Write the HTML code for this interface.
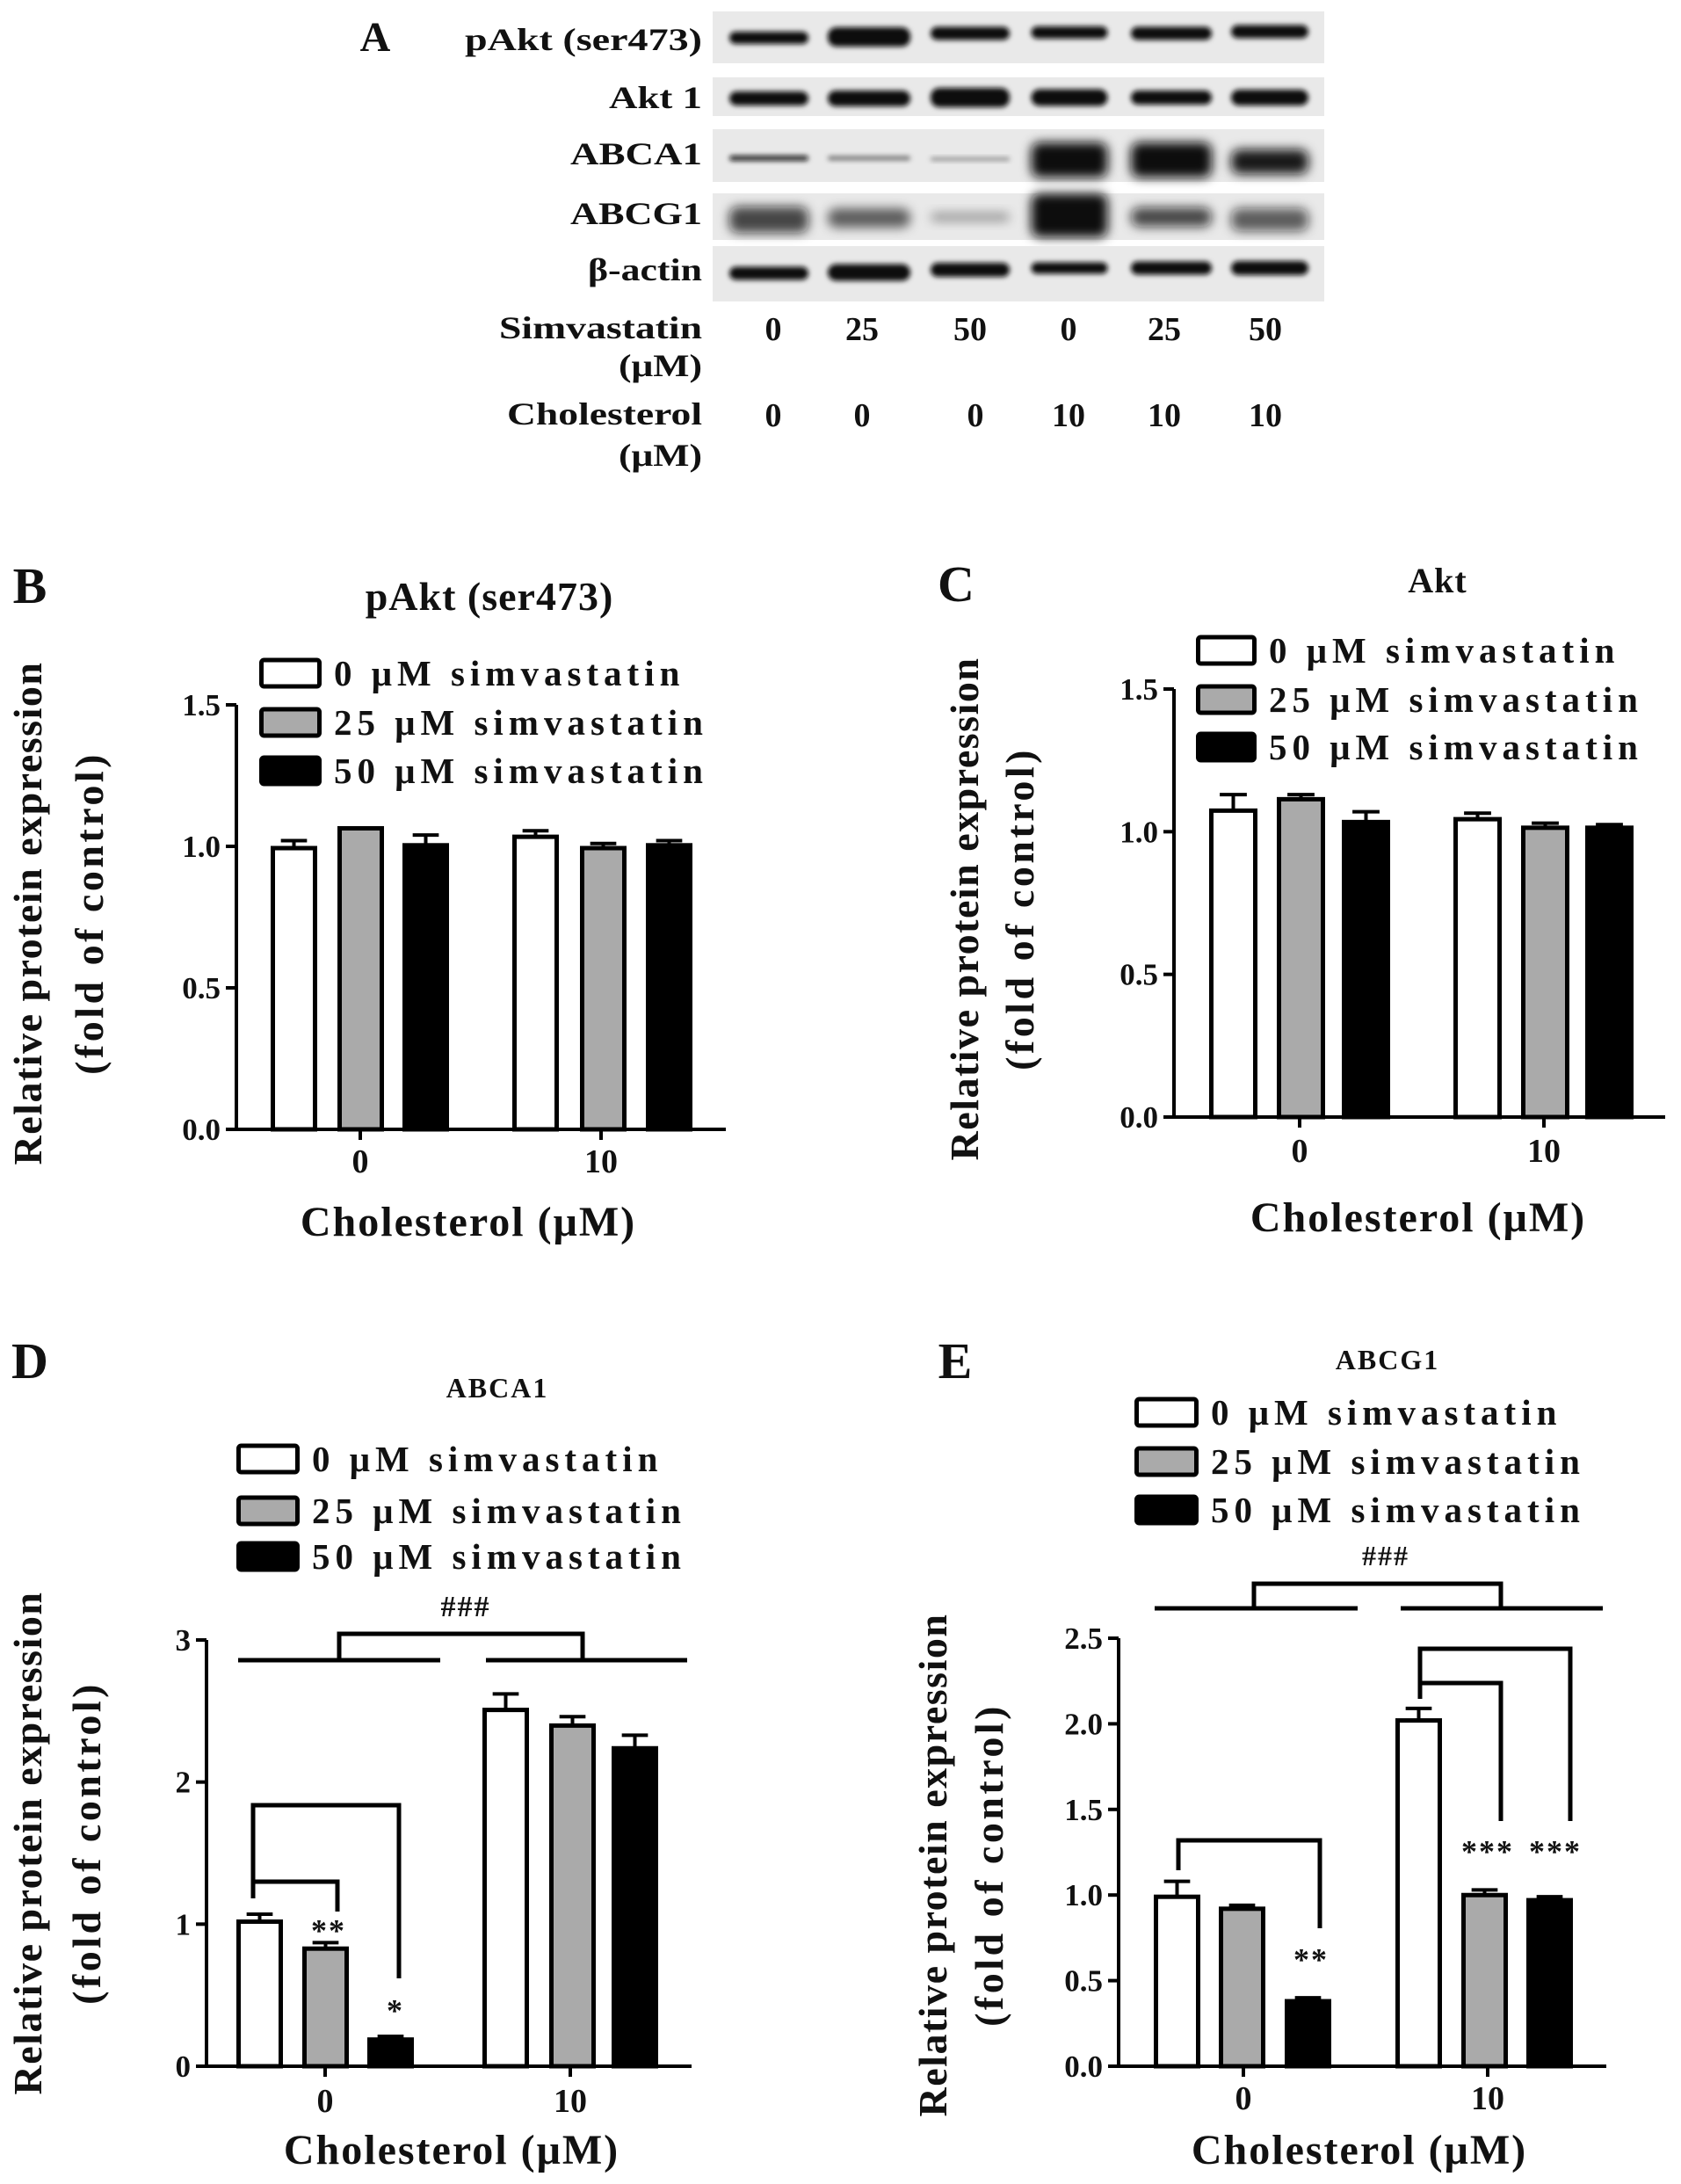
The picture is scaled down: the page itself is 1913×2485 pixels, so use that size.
<!DOCTYPE html>
<html><head><meta charset="utf-8">
<style>
html,body{margin:0;padding:0;background:#fff;}
svg{display:block;}
text{font-family:"Liberation Serif",serif;font-weight:bold;fill:#111;}
</style></head>
<body>
<svg id="fig" width="1913" height="2485" viewBox="0 0 1913 2485" xmlns="http://www.w3.org/2000/svg">
<defs>
<filter id="blur" x="-20%" y="-100%" width="140%" height="300%"><feGaussianBlur stdDeviation="3"/></filter>
<filter id="blur2" x="-20%" y="-100%" width="140%" height="300%"><feGaussianBlur stdDeviation="6"/></filter>
</defs>
<g id="panelA"></g>
<g id="charts"></g>
</svg>
<script>
// ---- Panel A data ----
const blotRows = ["pAkt (ser473)","Akt 1","ABCA1","ABCG1","β-actin"];
const simvaLabels = ["0","25","50","0","25","50"];
const cholLabels = ["0","0","0","10","10","10"];

// ---- Chart data ----
const groups = ["0","10"];
const seriesNames = ["0 μM simvastatin","25 μM simvastatin","50 μM simvastatin"];
const pAktVals = [[1.00,1.07,1.01],[1.04,1.00,1.01]];
const pAktErr  = [[0.02,0.00,0.03],[0.015,0.01,0.01]];
const pAktTicks = ["0.0","0.5","1.0","1.5"];
const aktVals = [[1.08,1.12,1.04],[1.05,1.02,1.02]];
const aktErr  = [[0.05,0.01,0.03],[0.015,0.01,0.005]];
const aktTicks = ["0.0","0.5","1.0","1.5"];
const abca1Vals = [[1.03,0.84,0.20],[2.52,2.41,2.25]];
const abca1Err  = [[0.04,0.03,0.01],[0.10,0.05,0.08]];
const abca1Ticks = ["0","1","2","3"];
const abcg1Vals = [[1.00,0.93,0.39],[2.03,1.01,0.98]];
const abcg1Err  = [[0.08,0.01,0.01],[0.06,0.02,0.01]];
const abcg1Ticks = ["0.0","0.5","1.0","1.5","2.0","2.5"];

const NS="http://www.w3.org/2000/svg";
function mk(tag,attrs,parent,txt){const e=document.createElementNS(NS,tag);for(const k in attrs)e.setAttribute(k,attrs[k]);if(txt!==undefined)e.textContent=txt;parent.appendChild(e);return e;}

// ---- Panel A ----
const A=document.getElementById('panelA');
let t=mk('text',{x:427,y:58,'font-size':48,'text-anchor':'middle'},A,"A");


const strips=[[13,72],[88,132],[147,207],[220,273],[280,343]];
const labelY=[45,111,175,243,307];
const labelW=[270,106,150,150,130];
const laneX=[875,989,1104,1217,1333,1445];
const laneW=[90,94,90,87,92,88];
const bandY=[[43,42,38,37,38,36],[112,112,111,111,111,111],[180,180,181,182,182,184],[250,248,247,245,247,250],[311,310,307,305,305,305]];
const bandH=[[14,22,15,14,15,15],[16,18,22,19,16,18],[6,5,4,40,40,28],[30,22,10,50,22,26],[15,19,16,13,15,16]];
const bandO=[[1,1,1,1,1,1],[1,1,1,1,1,1],[0.9,0.5,0.4,1,1,0.95],[0.75,0.6,0.35,1,0.75,0.65],[1,1,1,1,1,1]];
strips.forEach((s,i)=>{
  const g=mk('g',{},A);
  
  
  mk('rect',{x:811,y:s[0],width:696,height:s[1]-s[0],fill:'#e9e9e9'},g);
  laneX.forEach((lx,j)=>{
    const f=(i===2&&j>=3)||(i===3)?'url(#blur2)':'url(#blur)';
    const b=mk('rect',{x:lx-laneW[j]/2,y:bandY[i][j]-bandH[i][j]/2,width:laneW[j],height:bandH[i][j],rx:Math.min(10,bandH[i][j]/2),fill:'#0a0a0a','fill-opacity':bandO[i][j],filter:f},g);
    
    
  });
  const l=mk('text',{x:799,y:labelY[i]+12,'font-size':36,'text-anchor':'end',textLength:labelW[i],lengthAdjust:'spacingAndGlyphs'},g,blotRows[i]);
  
  
});
[["Simvastatin",373,231],["(μM)",416,95],["Cholesterol",471,222],["(μM)",518,95]].forEach(r=>{
  const l=mk('text',{x:799,y:r[1]+12,'font-size':36,'text-anchor':'end',textLength:r[2],lengthAdjust:'spacingAndGlyphs'},A,r[0]);
  
  
});
simvaLabels.forEach((s,j)=>{
  const l=mk('text',{x:[880,981,1104,1216,1325,1440][j],y:387,'font-size':38,'text-anchor':'middle'},A,s);
  
  
});
cholLabels.forEach((s,j)=>{
  const l=mk('text',{x:[880,981,1110,1216,1325,1440][j],y:485,'font-size':38,'text-anchor':'middle'},A,s);
  
  
});

// ---- Chart builder ----
const fills=['#ffffff','#aaaaaa','#000000'];
function chart(c){
  const g=mk('g',{},document.getElementById('charts'));
  
  
  const ymax=parseFloat(c.ticks[c.ticks.length-1]);
  const Y=v=>c.y0-(c.y0-c.y1)*v/ymax;
  let e=mk('text',{x:c.letter[0],y:c.letter[1]+20,'font-size':58,'text-anchor':'middle'},g,c.letterText);
  
  
  e=mk('text',{x:c.title[0],y:c.title[1]+c.titleSize*0.35,'font-size':c.titleSize,'text-anchor':'middle','letter-spacing':c.titleSpacing,'font-weight':c.titleWeight},g,c.titleText);
  
  
  seriesNames.forEach((s,i)=>{
    const lg=mk('g',{},g);
    
    
    const ly=c.legY[i];
    mk('rect',{x:c.legX[0]+2.5,y:ly-15,width:c.legX[1]-c.legX[0]-5,height:30,fill:fills[i],stroke:'#000','stroke-width':5,rx:3},lg);
    mk('text',{x:c.legX[1]+14,y:ly+14,'font-size':41,'letter-spacing':6},lg,s);
  });
  groups.forEach((gname,gi)=>{
    c.vals[gi].forEach((v,si)=>{
      const bx=c.barX[gi][si], bw=c.barW;
      const top=Y(v), eTop=Y(v+c.errs[gi][si]);
      if(c.errs[gi][si]>0){
        const eb=mk('path',{d:`M${bx+bw/2} ${top} V${eTop} M${bx+bw/2-bw*0.28} ${eTop} H${bx+bw/2+bw*0.28}`,stroke:'#000','stroke-width':4,fill:'none'},g);
        
        
      }
      const r=mk('rect',{x:bx+2.5,y:top+2,width:bw-5,height:c.y0-top-2,fill:fills[si],stroke:'#000','stroke-width':5},g);
      
      
    });
    const tx=c.groupX[gi];
    mk('line',{x1:tx,y1:c.y0,x2:tx,y2:c.y0+12,stroke:'#000','stroke-width':4},g);
    const xl=mk('text',{x:tx,y:c.xtick+13,'font-size':38,'text-anchor':'middle'},g,gname);
    
    
  });
  let ax=mk('path',{d:`M${c.ax} ${c.y1} V${c.y0} M${c.ax-12} ${c.y0} H${c.axEnd}`,stroke:'#000','stroke-width':4,fill:'none'},g);
  
  
  c.ticks.forEach(tk=>{
    const v=parseFloat(tk), y=Y(v);
    mk('line',{x1:c.ax-12,y1:y,x2:c.ax,y2:y,stroke:'#000','stroke-width':4},g);
    const tl=mk('text',{x:c.ax-18,y:y+12,'font-size':35,'text-anchor':'end'},g,tk);
    
    
  });
  const yt=mk('text',{transform:`translate(${c.yt[0]+16},${c.yt[2]}) rotate(-90)`,'font-size':46,'text-anchor':'middle','letter-spacing':1.5},g,"Relative protein expression");
  
  
  const yt2=mk('text',{transform:`translate(${c.yt[1]+16},${c.yt[2]}) rotate(-90)`,'font-size':46,'text-anchor':'middle','letter-spacing':3.5},g,"(fold of control)");
  
  
  const xt=mk('text',{x:c.xt[0],y:c.xt[1]+16,'font-size':48,'text-anchor':'middle','letter-spacing':2},g,"Cholesterol (μM)");
  
  
  if(c.extra)c.extra(g,Y);
}
function line(g,d,name){const p=mk('path',{d:d,stroke:'#000','stroke-width':5,fill:'none'},g);}
function star(g,x,y,s,name,col){const e=mk('text',{x:x,y:y+s*0.35,'font-size':s,'text-anchor':'middle','font-weight':'normal','letter-spacing':2,fill:col||'#444'},g,name);}

chart({name:'panel-b-pakt-chart',short:'pakt',letterText:'B',letter:[34,666],title:[557,678],titleText:'pAkt (ser473)',titleSize:46,titleSpacing:1,titleWeight:'bold',
  legX:[295,366],legY:[766,822,877],vals:pAktVals,errs:pAktErr,ticks:pAktTicks,y0:1285,y1:802,ax:269,axEnd:826,xtick:1321,
  barX:[[308,384,458],[583,660,735]],barW:53,groupX:[410,684],yt:[31,101,1039],xt:[533,1390]});
chart({name:'panel-c-akt-chart',short:'akt',letterText:'C',letter:[1088,664],title:[1636,660],titleText:'Akt',titleSize:40,titleSpacing:1,titleWeight:'bold',
  legX:[1361,1430],legY:[740,796,850],vals:aktVals,errs:aktErr,ticks:aktTicks,y0:1271,y1:784,ax:1336,axEnd:1895,xtick:1309,
  barX:[[1376,1453,1527],[1654,1731,1804]],barW:55,groupX:[1479,1757],yt:[1097,1160,1034],xt:[1614,1385]});
chart({name:'panel-d-abca1-chart',short:'abca1',letterText:'D',letter:[34,1548],title:[566,1579],titleText:'ABCA1',titleSize:32,titleSpacing:2,titleWeight:'normal',
  legX:[269,341],legY:[1660,1719,1771],vals:abca1Vals,errs:abca1Err,ticks:abca1Ticks,y0:2351,y1:1866,ax:235,axEnd:787,xtick:2390,
  barX:[[269,344,418],[549,625,696]],barW:53,groupX:[370,649],yt:[31,98,2097],xt:[514,2446],
  extra:(g,Y)=>{
    star(g,530,1827,34,'###','#777');
    line(g,'M386 1889 V1859 H663 V1889','bracket-between-groups');
    line(g,'M271 1889 H501 M553 1889 H782','group-underlines');
    line(g,'M288 2160 V2054 H454 V2251','bracket-0-vs-50');
    line(g,'M288 2141 H384 V2175','bracket-0-vs-25');
    star(g,374,2196,36,'**');
    star(g,450,2287,36,'*');
  }});
chart({name:'panel-e-abcg1-chart',short:'abcg1',letterText:'E',letter:[1087,1548],title:[1579,1547],titleText:'ABCG1',titleSize:32,titleSpacing:2,titleWeight:'normal',
  legX:[1291,1364],legY:[1607,1663,1718],vals:abcg1Vals,errs:abcg1Err,ticks:abcg1Ticks,y0:2351,y1:1864,ax:1273,axEnd:1828,xtick:2387,
  barX:[[1313,1387,1462],[1588,1663,1737]],barW:53,groupX:[1415,1693],yt:[1061,1125,2122],xt:[1547,2446],
  extra:(g,Y)=>{
    star(g,1577,1770,32,'###','#777');
    line(g,'M1427 1830 V1802 H1708 V1830','bracket-between-groups');
    line(g,'M1314 1830 H1545 M1594 1830 H1824','group-underlines');
    line(g,'M1341 2128 V2094 H1502 V2194','bracket-0-vs-50');
    line(g,'M1616 1933 V1876 H1787 V2072','bracket-10-0-vs-50');
    line(g,'M1616 1915 H1708 V2072','bracket-10-0-vs-25');
    star(g,1492,2229,36,'**');
    star(g,1693,2106,36,'***');
    star(g,1770,2106,36,'***');
  }});
</script>
</body></html>
